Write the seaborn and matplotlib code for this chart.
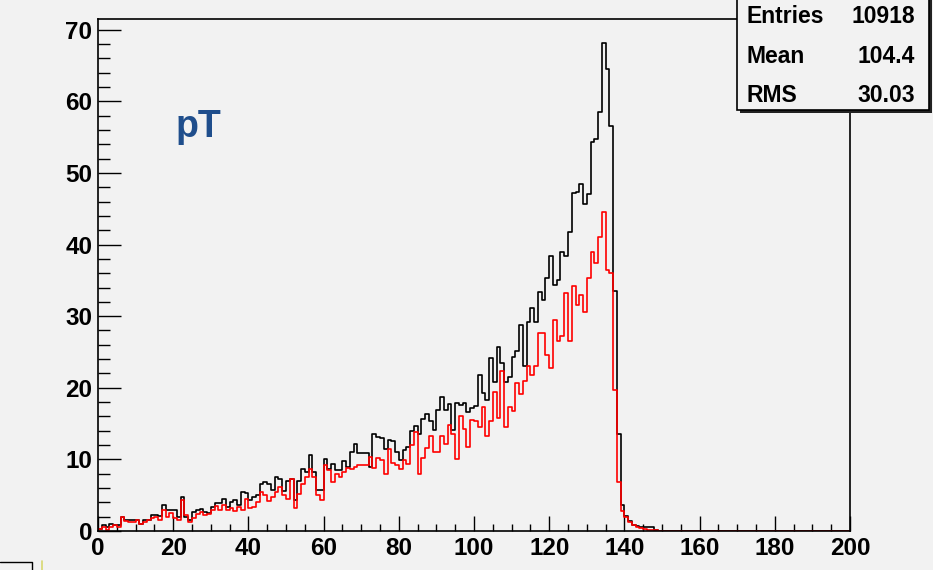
import numpy as np
import pandas as pd
import matplotlib
matplotlib.use("Agg")
import matplotlib.pyplot as plt
import seaborn as sns
from matplotlib.patches import Rectangle
from matplotlib.lines import Line2D
from matplotlib.ticker import MultipleLocator

# pT histogram, 1 unit bins from 0 to 200 (only the first 150 bins are filled)
bin_lo = np.arange(0, 150, 1)

pt_all = [
    0.3, 0.8, 0.5, 1.0, 0.8, 0.9, 2.0, 1.5, 1.5, 1.5,
    1.6, 1.0, 1.5, 1.5, 2.3, 2.2, 2.1, 3.6, 2.9, 2.9,
    2.9, 2.0, 4.7, 2.0, 1.5, 2.7, 2.9, 3.1, 2.7, 2.5,
    3.4, 3.9, 3.9, 4.5, 3.4, 4.1, 4.3, 3.6, 5.5, 5.3,
    4.3, 4.8, 5.0, 6.6, 6.9, 6.6, 5.7, 7.6, 7.2, 5.6,
    7.0, 7.2, 4.3, 7.0, 8.7, 8.3, 10.6, 8.2, 5.7, 5.7,
    10.1, 8.7, 9.4, 8.5, 8.5, 9.8, 9.0, 11.0, 12.2, 10.9,
    10.9, 10.9, 8.9, 13.6, 13.1, 13.0, 11.5, 12.7, 12.5, 11.0,
    9.9, 11.3, 11.8, 13.9, 14.6, 13.6, 15.7, 16.4, 15.3, 14.1,
    16.9, 18.7, 16.9, 17.8, 14.1, 17.9, 17.6, 17.9, 16.6, 17.2,
    17.4, 21.8, 19.3, 18.3, 24.1, 20.8, 25.7, 23.4, 20.8, 21.5,
    24.3, 25.2, 28.8, 23.1, 29.2, 31.1, 29.2, 33.4, 32.3, 35.4,
    38.4, 34.4, 35.0, 38.9, 38.4, 41.8, 47.2, 47.3, 48.5, 45.6,
    47.1, 54.3, 54.8, 58.5, 68.1, 64.5, 56.5, 33.5, 13.6, 3.7,
    2.1, 1.4, 0.9, 0.7, 0.5, 0.6, 0.6, 0.6, 0.2, 0.0,
]

pt_red = [
    0.3, 0.5, 0.2, 0.6, 0.8, 0.5, 2.0, 1.4, 1.2, 1.3,
    1.6, 1.0, 1.2, 1.6, 1.8, 2.0, 1.5, 3.0, 2.0, 2.5,
    1.8, 1.6, 4.3, 2.2, 1.2, 1.8, 2.4, 2.7, 2.2, 2.4,
    3.0, 3.5, 2.9, 3.6, 2.9, 3.2, 2.8, 3.3, 2.9, 4.4,
    3.2, 3.3, 4.0, 5.5, 5.0, 4.2, 4.8, 5.5, 6.2, 5.0,
    4.5, 7.2, 3.2, 5.2, 6.5, 7.6, 8.7, 7.6, 5.0, 4.3,
    9.2, 8.5, 6.9, 8.0, 7.6, 8.3, 8.8, 8.6, 9.0, 9.2,
    9.2, 9.2, 10.3, 8.8, 10.2, 9.9, 8.0, 11.5, 9.5, 9.2,
    8.7, 9.9, 9.4, 12.0, 13.8, 8.0, 10.2, 11.6, 13.2, 11.0,
    11.0, 13.3, 12.2, 14.8, 13.5, 10.1, 16.0, 14.2, 11.7, 15.5,
    15.4, 14.5, 17.3, 13.2, 15.4, 19.4, 15.8, 22.3, 14.5, 17.3,
    16.8, 20.6, 19.2, 21.0, 23.1, 21.8, 23.1, 27.7, 27.7, 24.6,
    22.7, 29.5, 26.5, 27.2, 33.3, 26.6, 34.2, 31.5, 33.0, 30.6,
    35.3, 38.9, 37.4, 41.1, 44.5, 36.4, 36.0, 19.7, 6.8, 2.8,
    2.0, 1.2, 0.9, 0.5, 0.4, 0.3, 0.2, 0.2, 0.1, 0.0,
]

stats_names = ["Entries", "Mean", "RMS"]
stats_values = ["10918", "104.4", "30.03"]

sns.set_style("ticks")
plt.rcParams["font.family"] = ["Liberation Sans", "DejaVu Sans"]
plt.rcParams["font.weight"] = "bold"
plt.rcParams["text.color"] = "black"
plt.rcParams["xtick.color"] = "black"
plt.rcParams["ytick.color"] = "black"
plt.rcParams["xtick.labelcolor"] = "black"
plt.rcParams["ytick.labelcolor"] = "black"

W, H = 933, 570
bg = "#f2f2f2"

fig = plt.figure(figsize=(W / 100, H / 100), dpi=100, facecolor=bg)
ax = fig.add_axes([98 / W, 39 / H, 752 / W, 512 / H])
ax.set_facecolor(bg)

df = pd.DataFrame({
    "pt": bin_lo + 0.5,
    "all": pt_all,
    "red": pt_red,
})

hist_kw = dict(data=df, x="pt", binwidth=1, binrange=(0, 200), element="step",
               fill=False, linewidth=1.2, ax=ax)
sns.histplot(weights="all", color="black", **hist_kw)
sns.histplot(weights="red", color="#ff0000", **hist_kw)

ax.set_xlim(0, 200)
ax.set_ylim(0, 71.5)
ax.set_xlabel("")
ax.set_ylabel("")

ax.xaxis.set_major_locator(MultipleLocator(20))
ax.xaxis.set_minor_locator(MultipleLocator(5))
ax.yaxis.set_major_locator(MultipleLocator(10))
ax.yaxis.set_minor_locator(MultipleLocator(2))

ax.tick_params(axis="y", which="major", direction="in", length=16.5, width=1,
               labelsize=17.5, pad=4, colors="black")
ax.tick_params(axis="y", which="minor", direction="in", length=8.5, width=1,
               colors="black")
ax.tick_params(axis="x", which="major", direction="in", length=11, width=1,
               labelsize=17.5, pad=4, colors="black")
ax.tick_params(axis="x", which="minor", direction="in", length=5, width=1,
               colors="black")
for lab in ax.get_xticklabels() + ax.get_yticklabels():
    lab.set_fontweight("bold")

for s in ax.spines.values():
    s.set_visible(True)
    s.set_linewidth(1.2)
    s.set_color("black")

ax.text(20.5, 55.0, "pT", color="#1f4e8c", fontsize=27, fontweight="bold",
        va="baseline", ha="left")

# stats box in the top right corner
shadow = Rectangle((740 / W, (H - 113) / H), 192 / W, 120 / H,
                   transform=fig.transFigure, facecolor="#222222",
                   edgecolor="none", zorder=9)
box = Rectangle((737 / W, (H - 110) / H), 192 / W, 120 / H,
                transform=fig.transFigure, facecolor=bg,
                edgecolor="black", linewidth=1.2, zorder=10)
fig.patches.extend([shadow, box])

baselines = [23.3, 63.3, 101.7]
for name, val, yb in zip(stats_names, stats_values, baselines):
    fig.text(747 / W, 1 - yb / H, name, ha="left", va="baseline",
             fontsize=16.5, fontweight="bold", color="black", zorder=11)
    fig.text(915 / W, 1 - yb / H, val, ha="right", va="baseline",
             fontsize=16.5, fontweight="bold", color="black", zorder=11)

# bits of the screenshot at the bottom left
fig.add_artist(Line2D([0, 32 / W, 32 / W], [1 - 561.7 / H, 1 - 561.7 / H, 0],
                      transform=fig.transFigure, color="black", linewidth=1))
fig.add_artist(Line2D([41.7 / W, 41.7 / W], [1 - 561 / H, 0],
                      transform=fig.transFigure, color="#d8d870", linewidth=1.2))

fig.savefig("out.png", dpi=100, facecolor=bg)
